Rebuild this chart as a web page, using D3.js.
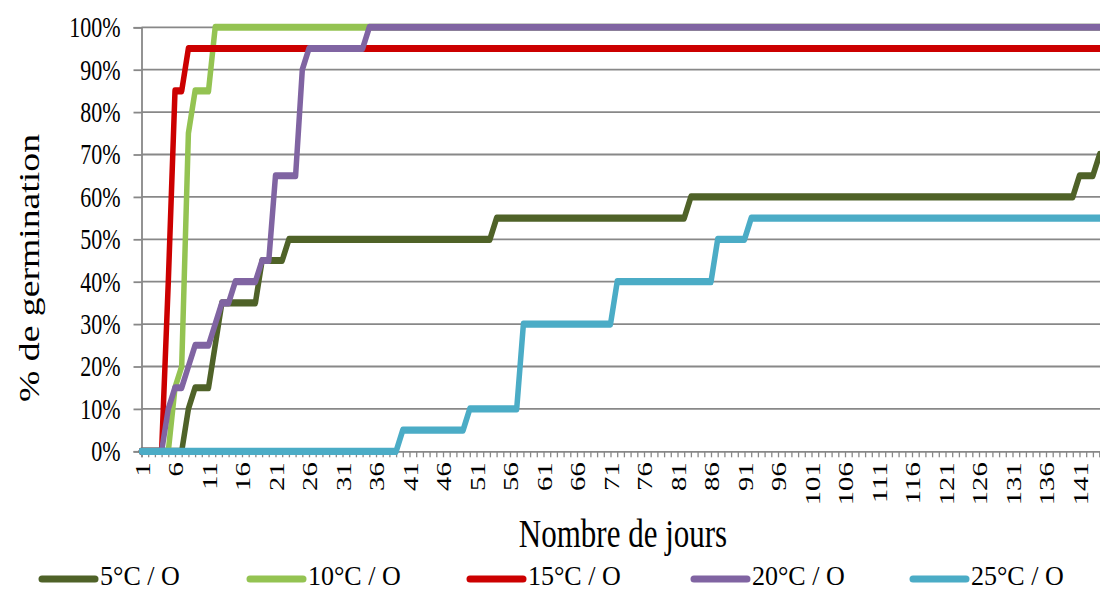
<!DOCTYPE html>
<html><head><meta charset="utf-8">
<script src="https://cdn.jsdelivr.net/npm/d3@7"></script>
<style>
body{margin:0;background:#fff}
svg{display:block}
text{font-family:"Liberation Serif","Times New Roman",serif;fill:#000}
</style>
</head><body>
<svg id="c" width="1100" height="591"></svg>
<script>
// Categories: day numbers 1..144 (visible part of the chart)
const days = d3.range(1, 145);
const xTickLabels = [1,6,11,16,21,26,31,36,41,46,51,56,61,66,71,76,81,86,91,96,101,106,111,116,121,126,131,136,141];
const yTicks = [0,0.1,0.2,0.3,0.4,0.5,0.6,0.7,0.8,0.9,1];
const seriesNames = ["5°C / O","10°C / O","15°C / O","20°C / O","25°C / O"];
const seriesColors = ["#4f6228","#94c352","#cc0000","#8064a2","#4bacc6"];

// % germination per day (index 0 = day 1)
const s5 = [
 0,0,0,0,0,0,0,10,15,15,
 15,25,35,35,35,35,35,35,45,45,
 45,45,50,50,50,50,50,50,50,50,
 50,50,50,50,50,50,50,50,50,50,
 50,50,50,50,50,50,50,50,50,50,
 50,50,50,55,55,55,55,55,55,55,
 55,55,55,55,55,55,55,55,55,55,
 55,55,55,55,55,55,55,55,55,55,
 55,55,60,60,60,60,60,60,60,60,
 60,60,60,60,60,60,60,60,60,60,
 60,60,60,60,60,60,60,60,60,60,
 60,60,60,60,60,60,60,60,60,60,
 60,60,60,60,60,60,60,60,60,60,
 60,60,60,60,60,60,60,60,60,60,
 65,65,65,70];
const s10 = [
 0,0,0,0,0,15,20,75,85,85,
 85,100,100,100,100,100,100,100,100,100,
 100,100,100,100,100,100,100,100,100,100,
 100,100,100,100,100,100,100,100,100,100,
 100,100,100,100,100,100,100,100,100,100,
 100,100,100,100,100,100,100,100,100,100,
 100,100,100,100,100,100,100,100,100,100,
 100,100,100,100,100,100,100,100,100,100,
 100,100,100,100,100,100,100,100,100,100,
 100,100,100,100,100,100,100,100,100,100,
 100,100,100,100,100,100,100,100,100,100,
 100,100,100,100,100,100,100,100,100,100,
 100,100,100,100,100,100,100,100,100,100,
 100,100,100,100,100,100,100,100,100,100,
 100,100,100,100];
const s15 = [
 0,0,0,0,40,85,85,95,95,95,
 95,95,95,95,95,95,95,95,95,95,
 95,95,95,95,95,95,95,95,95,95,
 95,95,95,95,95,95,95,95,95,95,
 95,95,95,95,95,95,95,95,95,95,
 95,95,95,95,95,95,95,95,95,95,
 95,95,95,95,95,95,95,95,95,95,
 95,95,95,95,95,95,95,95,95,95,
 95,95,95,95,95,95,95,95,95,95,
 95,95,95,95,95,95,95,95,95,95,
 95,95,95,95,95,95,95,95,95,95,
 95,95,95,95,95,95,95,95,95,95,
 95,95,95,95,95,95,95,95,95,95,
 95,95,95,95,95,95,95,95,95,95,
 95,95,95,95];
const s20 = [
 0,0,0,0,10,15,15,20,25,25,
 25,30,35,35,40,40,40,40,45,45,
 65,65,65,65,90,95,95,95,95,95,
 95,95,95,95,100,100,100,100,100,100,
 100,100,100,100,100,100,100,100,100,100,
 100,100,100,100,100,100,100,100,100,100,
 100,100,100,100,100,100,100,100,100,100,
 100,100,100,100,100,100,100,100,100,100,
 100,100,100,100,100,100,100,100,100,100,
 100,100,100,100,100,100,100,100,100,100,
 100,100,100,100,100,100,100,100,100,100,
 100,100,100,100,100,100,100,100,100,100,
 100,100,100,100,100,100,100,100,100,100,
 100,100,100,100,100,100,100,100,100,100,
 100,100,100,100];
const s25 = [
 0,0,0,0,0,0,0,0,0,0,
 0,0,0,0,0,0,0,0,0,0,
 0,0,0,0,0,0,0,0,0,0,
 0,0,0,0,0,0,0,0,0,5,
 5,5,5,5,5,5,5,5,5,10,
 10,10,10,10,10,10,10,30,30,30,
 30,30,30,30,30,30,30,30,30,30,
 30,40,40,40,40,40,40,40,40,40,
 40,40,40,40,40,40,50,50,50,50,
 50,55,55,55,55,55,55,55,55,55,
 55,55,55,55,55,55,55,55,55,55,
 55,55,55,55,55,55,55,55,55,55,
 55,55,55,55,55,55,55,55,55,55,
 55,55,55,55,55,55,55,55,55,55,
 55,55,55,55];
const seriesValues = [s5, s10, s15, s20, s25];

const svg = d3.select("#c");
const SY = 1.3; // the picture is stretched vertically
const mLeft = 141.5, mTop = 27.3, mBottom = 451.3, plotRight = 1100;
const x = d3.scalePoint().domain(days).range([mLeft, 1099.6]);
const y = d3.scaleLinear().domain([0, 1]).range([mBottom, mTop]);
const grid = "#888888";

// gridlines
svg.append("g").selectAll("line").data(yTicks.filter(d => d > 0)).join("line")
  .attr("x1", mLeft).attr("x2", plotRight)
  .attr("y1", d => y(d)).attr("y2", d => y(d))
  .attr("stroke", grid).attr("stroke-width", 1.8);

// y axis
const ya = svg.append("g").attr("transform", `translate(${mLeft},0)`)
  .call(d3.axisLeft(y).tickValues(yTicks).tickFormat(d3.format(".0%")).tickSize(8).tickPadding(13));
ya.select(".domain").attr("stroke", grid).attr("stroke-width", 1.8);
ya.selectAll(".tick line").attr("stroke", grid).attr("stroke-width", 1.8);
ya.selectAll("text").attr("dy", "0.33em").attr("transform", `scale(1,${SY})`)
  .style("font-size", "22px").style("font-family", '"Liberation Serif",serif');

// x axis
const labelSet = new Set(xTickLabels);
const xa = svg.append("g").attr("transform", `translate(0,${mBottom})`)
  .call(d3.axisBottom(x).tickValues(days).tickSize(6).tickFormat(d => labelSet.has(d) ? String(d) : ""));
xa.select(".domain").attr("stroke", grid).attr("stroke-width", 1.8);
xa.selectAll(".tick line").attr("stroke", grid).attr("stroke-width", 1.3);
xa.selectAll("text")
  .attr("transform", `translate(0,11) scale(1,${SY}) rotate(-90)`)
  .attr("x", 0).attr("y", 0).attr("dy", "0.35em")
  .style("text-anchor", "end")
  .style("font-size", "22px").style("font-family", '"Liberation Serif",serif');

// lines (drawn in a vertically stretched frame, like the picture)
const line = d3.line().x((d, i) => x(days[i])).y(d => y(d / 100) / SY);
svg.append("g").attr("transform", `scale(1,${SY})`)
  .selectAll("path").data(seriesValues).join("path")
  .attr("d", d => line(d))
  .attr("fill", "none")
  .attr("stroke", (d, i) => seriesColors[i])
  .attr("stroke-width", 5.5)
  .attr("stroke-linejoin", "round")
  .attr("stroke-linecap", "round");

// axis titles
svg.append("text").attr("transform", `translate(623,547) scale(1,${SY})`).attr("text-anchor", "middle")
  .style("font-size", "31px").text("Nombre de jours");
svg.append("text").attr("transform", `translate(39,268) scale(1,${SY}) rotate(-90)`).attr("text-anchor", "middle")
  .style("font-size", "29px").text("% de germination");

// legend
const legX = [42, 250, 470, 694, 913];
const lg = svg.append("g").selectAll("g").data(seriesNames).join("g")
  .attr("transform", (d, i) => `translate(${legX[i]},579)`);
lg.append("line").attr("x1", 0).attr("x2", 53).attr("y1", 0).attr("y2", 0)
  .attr("stroke", (d, i) => seriesColors[i]).attr("stroke-width", 7).attr("stroke-linecap", "round");
lg.append("text").attr("transform", "translate(58,5.5) scale(1,1.05)")
  .style("font-size", "26px").text(d => d);
</script>
</body></html>
